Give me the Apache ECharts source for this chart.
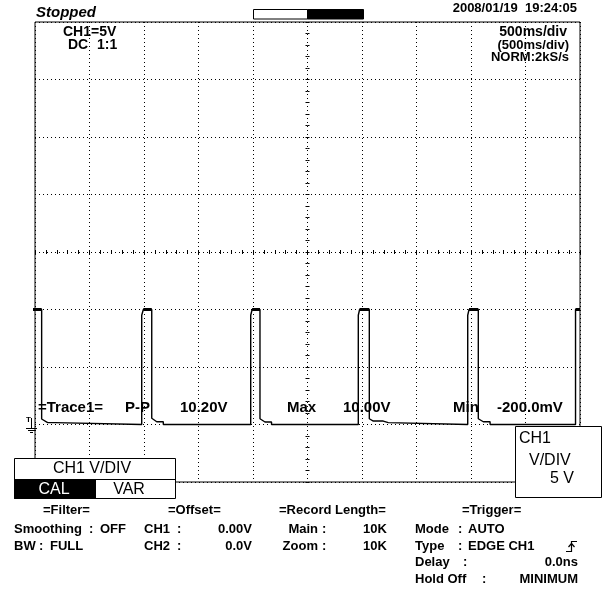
<!DOCTYPE html>
<html><head><meta charset="utf-8">
<script src="https://cdn.jsdelivr.net/npm/echarts@6/dist/echarts.min.js"></script>
<style>html,body{margin:0;padding:0;background:#fff}#c{width:602px;height:591px}</style>
</head><body><div id="c"></div>
<script>
// ---- waveform (time in ms, CH1 voltage in V) ----
const timeMs = [-30, -30, 61, 61, 116, 183, 183,
  979, 979, 994, 1071, 1071, 1117, 1177, 1177,
  1979, 1979, 1992, 2064, 2064, 2110, 2170, 2170,
  2966, 2966, 2978, 3067, 3067, 3104, 3195, 3195, 3241, 3241,
  3970, 3970, 3982, 4067, 4067, 4113, 4175, 4175,
  4959, 4959, 5000];
const voltsV = [0, 10, 10, 0.48, 0.16, 0.16, 0,
  0, 9.5, 10, 10, 0.54, 0.24, 0.24, 0,
  0, 9.5, 10, 10, 0.5, 0.22, 0.22, 0,
  0, 9.5, 10, 10, 0.5, 0.3, 0.3, 0.16, 0.16, 0,
  0, 9.5, 10, 10, 0.5, 0.24, 0.24, 0,
  0, 10, 10];

// ---- axes (500 ms/div, 5 V/div, 10 x 8 divisions) ----
const timeRange = [0, 5000], timeStep = 500;
const voltRange = [-5, 35], voltStep = 5;

// ---- on-screen text ----
const headerTexts = ['Stopped', '2008/01/19  19:24:05'];
const ch1Texts = ['CH1=5V', 'DC', '1:1'];
const timebaseTexts = ['500ms/div', '(500ms/div)', 'NORM:2kS/s'];
const measureTexts = ['=Trace1=', 'P-P', '10.20V', 'Max', '10.00V', 'Min', '-200.0mV'];
const vdivMenu = ['CH1 V/DIV', 'CAL', 'VAR'];
const vdivBox = ['CH1', 'V/DIV', '5 V'];
const panelHeaders = ['=Filter=', '=Offset=', '=Record Length=', '=Trigger='];
const filterRows = [['Smoothing', ':', 'OFF'], ['BW', ':', 'FULL']];
const offsetRows = [['CH1', ':', '0.00V'], ['CH2', ':', '0.0V']];
const recordRows = [['Main', ':', '10K'], ['Zoom', ':', '10K']];
const triggerRows = [['Mode', ':', 'AUTO'], ['Type', ':', 'EDGE CH1'], ['Delay', ':', '0.0ns'], ['Hold Off', ':', 'MINIMUM']];

const chart = echarts.init(document.getElementById('c'), null, {renderer: 'canvas'});
const G = {left: 35, top: 22, width: 545, height: 460};
const dots = {color: '#000', width: 1, type: [1, 3]};
const FS = '"Liberation Sans", Arial, sans-serif';

function T(text, x, y, font, align, fill) {
  return {type: 'text', x: x, y: y, z: 100,
    style: {text: text, font: font, fill: fill || '#000', align: align || 'left', verticalAlign: 'middle'}};
}
function L(x1, y1, x2, y2, w) {
  return {type: 'line', z: 100, shape: {x1: x1, y1: y1, x2: x2, y2: y2}, style: {stroke: '#000', lineWidth: w || 1}};
}
function R(x, y, w, h, fill, stroke) {
  return {type: 'rect', z: 90, shape: {x: x, y: y, width: w, height: h},
    style: {fill: fill, stroke: stroke || null, lineWidth: 1}};
}

const bold13 = 'bold 13px ' + FS;
const bold14 = 'bold 14px ' + FS;
const bold15 = 'bold 15px ' + FS;
const norm16 = '16px ' + FS;

const elements = [];
// top bar
elements.push(T(headerTexts[0], 36, 13, 'italic bold 15px ' + FS));
elements.push(T(headerTexts[1], 577, 8, bold13, 'right'));
elements.push(R(253.5, 9.5, 54, 9.5, '#fff', '#000'));
elements.push(R(307.5, 9.5, 56, 9.5, '#000', '#000'));
// channel info
elements.push(T(ch1Texts[0], 63, 32, bold14));
elements.push(T(ch1Texts[1], 68, 45, bold14));
elements.push(T(ch1Texts[2], 97, 45, bold14));
elements.push(T(timebaseTexts[0], 567, 32, bold14, 'right'));
elements.push(T(timebaseTexts[1], 569, 45, bold13, 'right'));
elements.push(T(timebaseTexts[2], 569, 57, bold13, 'right'));
// measurement line
const mx = [38, 125, 180, 287, 343, 453, 497];
measureTexts.forEach((s, i) => elements.push(T(s, mx[i], 408, bold15)));
// trigger level marker
elements.push(T('T', 26, 420, 'bold 8px ' + FS));
elements.push(L(31.5, 418, 31.5, 428));
elements.push(L(26, 428.5, 37, 428.5));
elements.push(L(28, 430.5, 35, 430.5));
elements.push(L(30, 432.5, 33, 432.5));
// CH1 V/DIV menu box
elements.push(R(14.5, 458.5, 161, 40, '#fff', '#000'));
elements.push(R(14.5, 480, 81, 18.5, '#000', '#000'));
elements.push(L(14.5, 479.5, 175.5, 479.5));
elements.push(L(95.5, 479.5, 95.5, 498.5));
elements.push(T(vdivMenu[0], 92, 469, norm16, 'center'));
elements.push(T(vdivMenu[1], 54, 490, norm16, 'center', '#fff'));
elements.push(T(vdivMenu[2], 129, 490, norm16, 'center'));
// right V/DIV box
elements.push(R(515.5, 426.5, 86, 71, '#fff', '#000'));
elements.push(T(vdivBox[0], 519, 439, norm16));
elements.push(T(vdivBox[1], 529, 461, norm16));
elements.push(T(vdivBox[2], 550, 479, norm16));
// bottom panel
const hx = [43, 168, 279, 462];
panelHeaders.forEach((s, i) => elements.push(T(s, hx[i], 510, bold13)));
const rowY = [529, 546, 562, 579];
filterRows.forEach((r, i) => {
  elements.push(T(r[0], 14, rowY[i], bold13));
  elements.push(T(r[1], i === 0 ? 89 : 39, rowY[i], bold13));
  elements.push(T(r[2], i === 0 ? 100 : 50, rowY[i], bold13));
});
offsetRows.forEach((r, i) => {
  elements.push(T(r[0], 144, rowY[i], bold13));
  elements.push(T(r[1], 177, rowY[i], bold13));
  elements.push(T(r[2], 252, rowY[i], bold13, 'right'));
});
recordRows.forEach((r, i) => {
  elements.push(T(r[0], 318, rowY[i], bold13, 'right'));
  elements.push(T(r[1], 322, rowY[i], bold13));
  elements.push(T(r[2], 363, rowY[i], bold13));
});
triggerRows.forEach((r, i) => {
  elements.push(T(r[0], 415, rowY[i], bold13));
  elements.push(T(r[1], i === 3 ? 482 : (i === 2 ? 463 : 458), rowY[i], bold13));
  if (i < 2) elements.push(T(r[2], 468, rowY[i], bold13));
  else elements.push(T(r[2], 578, rowY[i], bold13, 'right'));
});
// rising-edge trigger symbol
elements.push({type: 'polyline', z: 100, shape: {points: [[566, 551.5], [571.5, 551.5], [571.5, 541.5], [577, 541.5]]}, style: {stroke: '#000', lineWidth: 1.2, fill: null}});
elements.push({type: 'polyline', z: 100, shape: {points: [[568.5, 547], [571.5, 543.5], [574.5, 547]]}, style: {stroke: '#000', lineWidth: 1.2, fill: null}});

// pulse tops drawn heavier (same data, high-level points only)
const traceData = timeMs.map((t, i) => [t, voltsV[i]]);
const topData = traceData.map((p, i) => {
  const hi = p[1] >= 9.9;
  const nb = (i > 0 && voltsV[i - 1] >= 9.9) || (i < voltsV.length - 1 && voltsV[i + 1] >= 9.9);
  return hi && nb ? p : [p[0], null];
});

const hiddenLine = {show: true, onZero: true, lineStyle: {opacity: 0}};
chart.setOption({
  animation: false,
  backgroundColor: '#fff',
  grid: [
    Object.assign({show: true, borderColor: '#000', borderWidth: 1, backgroundColor: 'transparent'}, G),
    Object.assign({show: false}, G),
    Object.assign({show: false}, G)
  ],
  xAxis: [
    {gridIndex: 0, type: 'value', min: timeRange[0], max: timeRange[1], interval: timeStep,
      axisLine: {show: false}, axisTick: {show: false}, axisLabel: {show: false},
      splitLine: {show: true, lineStyle: dots}},
    {gridIndex: 1, type: 'value', min: -2500, max: 2500, interval: 100, axisLine: hiddenLine,
      axisTick: {show: true, inside: true, length: 2, lineStyle: {color: '#000'}}, axisLabel: {show: false}, splitLine: {show: false}},
    {gridIndex: 2, type: 'value', min: -2500, max: 2500, interval: 100, axisLine: hiddenLine,
      axisTick: {show: true, inside: false, length: 2, lineStyle: {color: '#000'}}, axisLabel: {show: false}, splitLine: {show: false}}
  ],
  yAxis: [
    {gridIndex: 0, type: 'value', min: voltRange[0], max: voltRange[1], interval: voltStep,
      axisLine: {show: false}, axisTick: {show: false}, axisLabel: {show: false},
      splitLine: {show: true, lineStyle: dots}},
    {gridIndex: 1, type: 'value', min: -20, max: 20, interval: 1, axisLine: hiddenLine,
      axisTick: {show: true, inside: true, length: 2, lineStyle: {color: '#000'}}, axisLabel: {show: false}, splitLine: {show: false}},
    {gridIndex: 2, type: 'value', min: -20, max: 20, interval: 1, axisLine: hiddenLine,
      axisTick: {show: true, inside: false, length: 2, lineStyle: {color: '#000'}}, axisLabel: {show: false}, splitLine: {show: false}}
  ],
  series: [{
    type: 'line', xAxisIndex: 0, yAxisIndex: 0, data: traceData,
    showSymbol: false, symbol: 'none', clip: true, z: 5,
    lineStyle: {color: '#000', width: 1.4}
  }, {
    type: 'line', xAxisIndex: 0, yAxisIndex: 0, data: topData, connectNulls: false,
    showSymbol: false, symbol: 'none', clip: true, z: 6,
    lineStyle: {color: '#000', width: 3}
  }],
  graphic: {elements: elements}
});
</script></body></html>
